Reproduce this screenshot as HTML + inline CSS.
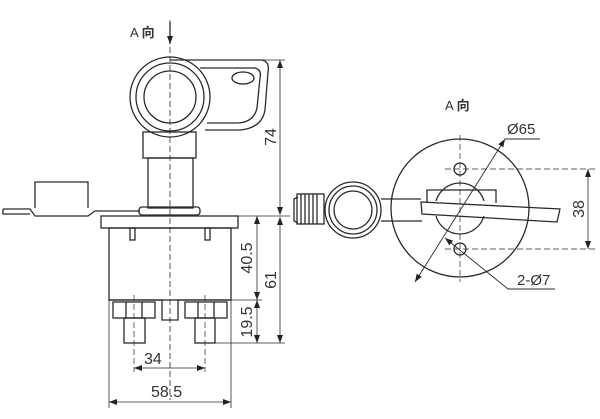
<!DOCTYPE html>
<html><head><meta charset="utf-8"><style>
html,body{margin:0;padding:0;background:#fff;}
svg{display:block;}
text{font-family:"Liberation Sans","Noto Sans CJK SC",sans-serif;fill:#333;}
</style></head><body>
<svg width="600" height="419" viewBox="0 0 600 419" xmlns="http://www.w3.org/2000/svg">
<defs>
<marker id="a" markerWidth="8" markerHeight="6" refX="8" refY="3" orient="auto-start-reverse" markerUnits="userSpaceOnUse"><path d="M0,0 L8,3 L0,6 z" fill="#222"/></marker>
</defs>
<g stroke="#2a2a2a" fill="none" stroke-width="1.3">
<line x1="170" y1="20" x2="170" y2="400" stroke-dasharray="6,3" stroke-width="0.8"/>
<line x1="170" y1="22" x2="170" y2="44" marker-end="url(#a)"/>
<path d="M170,60 L262,60 Q270,62 268,72 L265,110 Q262,128 240,130 L205,130"/>
<path d="M200,68 L255,68 Q262,70 260,78 L257,108 Q254,122 238,123 L207,123"/>
<circle cx="170" cy="97" r="40"/>
<circle cx="170" cy="97" r="34"/>
<circle cx="170" cy="97" r="26"/>
<ellipse cx="243" cy="78" rx="11" ry="6"/>
<rect x="143" y="132" width="53" height="26"/>
<rect x="148" y="158" width="45" height="50"/>
<rect x="139" y="207" width="61" height="8" rx="3"/>
<rect x="101" y="216" width="137" height="12"/>
<rect x="109" y="228" width="122" height="72"/>
<rect x="130" y="228" width="5" height="12"/>
<rect x="205" y="228" width="5" height="12"/>
<path d="M109,300 L162,300 L162,320 L178,320 L178,300 L231,300"/>
<rect x="113" y="302" width="42" height="16"/>
<line x1="126" y1="302" x2="126" y2="318"/><line x1="142" y1="302" x2="142" y2="318"/>
<rect x="185" y="302" width="42" height="16"/>
<line x1="198" y1="302" x2="198" y2="318"/><line x1="214" y1="302" x2="214" y2="318"/>
<rect x="124" y="318" width="21" height="25"/>
<rect x="195" y="318" width="20" height="25"/>
<line x1="134" y1="295" x2="134" y2="372" stroke-dasharray="6,3" stroke-width="0.7"/>
<line x1="205" y1="295" x2="205" y2="372" stroke-dasharray="6,3" stroke-width="0.7"/>
<path d="M35,208 L35,182 L88,182 L88,208"/>
<path d="M3,209 L30,209 L35,216 L88,216 L95,211 L140,211"/>
<path d="M3,209 L3,214 L30,214"/>
<line x1="262" y1="60" x2="285" y2="60" stroke-width="0.8"/>
<line x1="238" y1="216" x2="290" y2="216" stroke-width="0.8"/>
<line x1="231" y1="300" x2="262" y2="300" stroke-width="0.8"/>
<line x1="215" y1="343" x2="285" y2="343" stroke-width="0.8"/>
<line x1="280" y1="60" x2="280" y2="215" stroke-width="0.8" marker-start="url(#a)" marker-end="url(#a)"/>
<line x1="280" y1="217" x2="280" y2="343" stroke-width="0.8" marker-start="url(#a)" marker-end="url(#a)"/>
<line x1="257" y1="216" x2="257" y2="300" stroke-width="0.8" marker-start="url(#a)" marker-end="url(#a)"/>
<line x1="257" y1="300" x2="257" y2="343" stroke-width="0.8" marker-start="url(#a)" marker-end="url(#a)"/>
<line x1="109" y1="300" x2="109" y2="408" stroke-width="0.8"/>
<line x1="231" y1="300" x2="231" y2="408" stroke-width="0.8"/>
<line x1="134" y1="368" x2="205" y2="368" stroke-width="0.8" marker-start="url(#a)" marker-end="url(#a)"/>
<line x1="109" y1="402" x2="231" y2="402" stroke-width="0.8" marker-start="url(#a)" marker-end="url(#a)"/>
<path d="M298,197 L294,199 L294,221 L298,223"/>
<circle cx="460" cy="208" r="69"/>
<line x1="460" y1="135" x2="460" y2="282" stroke-dasharray="6,3" stroke-width="0.7"/>
<line x1="445" y1="169" x2="595" y2="169" stroke-dasharray="6,3" stroke-width="0.7"/>
<line x1="445" y1="249" x2="595" y2="249" stroke-dasharray="6,3" stroke-width="0.7"/>
<circle cx="460" cy="169" r="6"/>
<circle cx="460" cy="249" r="6"/>
<path d="M436,201 A25,25 0 0 1 484,201"/>
<path d="M436,216 A25,25 0 0 0 484,216"/>
<rect x="297" y="194" width="27" height="30"/>
<line x1="301" y1="194" x2="301" y2="224"/><line x1="305" y1="194" x2="305" y2="224"/><line x1="309" y1="194" x2="309" y2="224"/><line x1="313" y1="194" x2="313" y2="224"/><line x1="317" y1="194" x2="317" y2="224"/>
<circle cx="353" cy="210" r="28"/>
<circle cx="353" cy="210" r="24"/>
<circle cx="353" cy="210" r="19"/>
<line x1="381" y1="199" x2="421" y2="199"/>
<line x1="381" y1="221" x2="422" y2="221"/>
<path d="M427,203 L427,190 L496,190 L496,203"/>
<path d="M421,202 L560,209 L557,222 L422,214 Z"/>
<line x1="415" y1="282" x2="505" y2="139" stroke-width="0.9" marker-start="url(#a)" marker-end="url(#a)"/>
<line x1="505" y1="139" x2="540" y2="139" stroke-width="0.9"/>
<line x1="445" y1="238" x2="508" y2="289" stroke-width="0.9" marker-start="url(#a)"/>
<line x1="508" y1="289" x2="555" y2="289" stroke-width="0.9"/>
<line x1="588" y1="169" x2="588" y2="249" stroke-width="0.8" marker-start="url(#a)" marker-end="url(#a)"/>
</g>
<text x="130" y="37" font-size="13">A <tspan font-weight="bold">向</tspan></text>
<text x="445" y="110" font-size="13">A <tspan font-weight="bold">向</tspan></text>
<text x="507" y="134" font-size="15">Ø65</text>
<text x="517" y="285" font-size="15">2-Ø7</text>
<text x="144" y="364" font-size="16">34</text>
<text x="151" y="397" font-size="16">58.5</text>
<text transform="translate(276,137) rotate(-90)" font-size="16" text-anchor="middle">74</text>
<text transform="translate(252,258) rotate(-90)" font-size="16" text-anchor="middle">40.5</text>
<text transform="translate(276,280) rotate(-90)" font-size="16" text-anchor="middle">61</text>
<text transform="translate(252,322) rotate(-90)" font-size="16" text-anchor="middle">19.5</text>
<text transform="translate(584,209) rotate(-90)" font-size="16" text-anchor="middle">38</text>
</svg>
</body></html>
